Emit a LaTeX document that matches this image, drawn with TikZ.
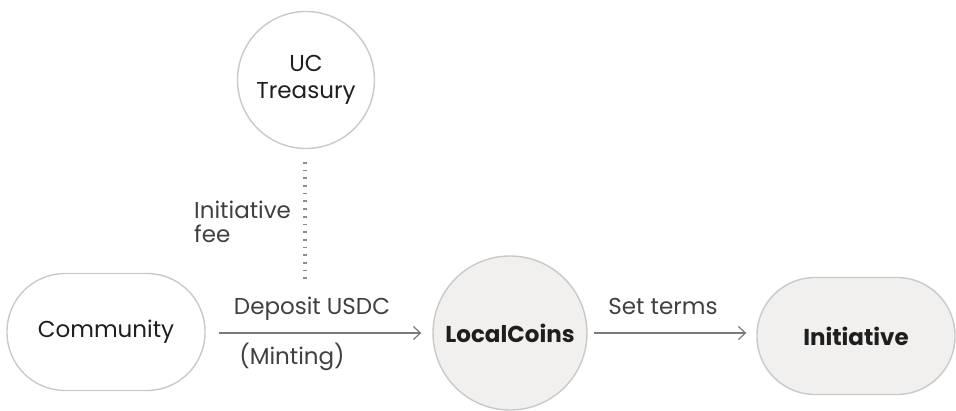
\documentclass[tikz,border=0pt]{standalone}
\usepackage{fontspec}
\setmainfont{Poppins}
\usetikzlibrary{arrows.meta}
\definecolor{edgegray}{HTML}{C9C9C9}
\definecolor{fillgray}{HTML}{F1F0EF}
\definecolor{arrowgray}{HTML}{7F7878}
\definecolor{dotgray}{HTML}{8C8C8C}
\definecolor{txt}{HTML}{1E1E1E}
\tikzset{
  x=1pt, y=-1pt,
  every node/.style={text=txt, font=\fontsize{23}{28}\selectfont},
  roundbox/.style={draw=edgegray, line width=1.4pt, rounded corners=58pt,
    minimum width=198pt, minimum height=117pt, inner sep=0pt},
  circ/.style={draw=edgegray, line width=1.4pt, circle, inner sep=0pt},
  flow/.style={draw=arrowgray, line width=1.2pt,
    -{Straight Barb[length=7pt,width=13pt,line width=1.2pt]}},
  lbl/.style={inner sep=0pt, text=txt!85!white}
}
\begin{document}
\begin{tikzpicture}
\useasboundingbox (0,0) rectangle (956,411);
% nodes
\node[circ, minimum size=137pt, align=center] (treasury) at (306,80) {UC\\[-1pt]Treasury};
\node[roundbox] (community) at (106,332) {Community};
\node[circ, fill=fillgray, minimum size=154pt] (localcoins) at (510,333) {\bfseries LocalCoins};
\node[roundbox, fill=fillgray] (initiative) at (856,336) {\bfseries Initiative};
% fee link to the treasury
\coordinate (feetop) at (305,162);
\coordinate (feeend) at (305,281);
\draw[dotgray, line width=4pt, dash pattern=on 1.7pt off 6pt] (feetop) -- (feeend);
\node[lbl, align=left, anchor=base west] (feelbl) at (194,243) {Initiative\\[-4pt]fee};
% flows
\draw[flow, shorten <=13pt, shorten >=11pt] (community.east |- localcoins) -- (localcoins);
\node[lbl, anchor=base] (deplbl) at (312,315) {Deposit USDC};
\node[lbl, anchor=base] (mintlbl) at (292,365) {(Minting)};
\draw[flow, shorten <=6pt, shorten >=10pt] (localcoins.east) -- (initiative.west |- localcoins);
\node[lbl, anchor=base] (termslbl) at (663,315) {Set terms};
\end{tikzpicture}
\end{document}
